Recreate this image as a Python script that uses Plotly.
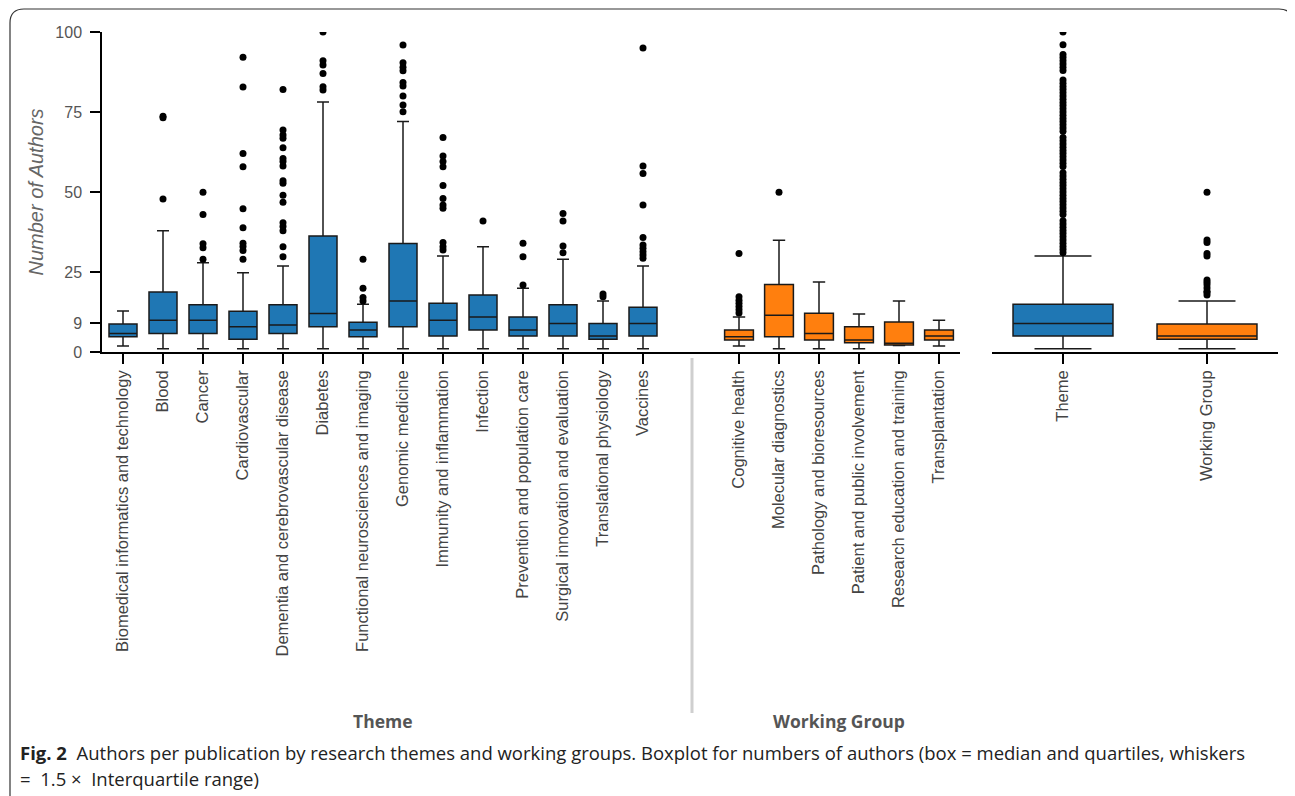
import plotly.graph_objects as go

# ---------------- data ----------------
theme_names = ["Biomedical informatics and technology", "Blood", "Cancer", "Cardiovascular",
               "Dementia and cerebrovascular disease", "Diabetes",
               "Functional neurosciences and imaging", "Genomic medicine",
               "Immunity and inflammation", "Infection", "Prevention and population care",
               "Surgical innovation and evaluation", "Translational physiology", "Vaccines"]
theme_q1 = [4.8, 5.8, 5.8, 4.0, 5.8, 7.9, 4.8, 7.9, 5.0, 6.9, 5.0, 5.0, 4.0, 5.0]
theme_median = [5.8, 9.9, 9.9, 7.9, 8.4, 12.0, 6.9, 15.9, 9.9, 10.9, 6.9, 8.9, 5.0, 8.9]
theme_q3 = [8.75, 18.75, 14.8, 12.7, 14.8, 36.25, 9.3, 33.9, 15.2, 17.8, 10.9, 14.8, 8.9, 14.0]
theme_lo = [1.9, 1, 1, 1, 1, 1, 1, 1, 1, 1, 1, 1, 1, 1]
theme_hi = [12.8, 37.9, 27.9, 24.8, 26.9, 78.1, 14.9, 72, 30, 32.9, 19.9, 29, 15.9, 26.9]
theme_outliers = [
    [],
    [73.7, 73.2, 47.8],
    [49.9, 43, 33.8, 32.6, 29],
    [92.1, 82.8, 62, 57.9, 44.8, 38.8, 34, 33, 31.7, 29],
    [82, 69.4, 67.8, 66.8, 63.8, 60.5, 59.5, 58.1, 53.5, 52.7, 49, 46.8, 40.4, 39.2, 37.9, 32.9, 29.8],
    [100, 91, 89.7, 87, 82.9, 81.9],
    [29, 19.9, 17, 15.9],
    [95.9, 90.4, 89, 87.9, 84.2, 83.1, 80, 77.2, 75.1],
    [67, 61.25, 59.5, 57.9, 52, 48, 45.9, 44.9, 34.2, 32.9, 31.9],
    [40.9],
    [34, 29.8, 20.9],
    [43.3, 40.9, 33.1, 31],
    [18.1, 17.3],
    [95, 58.1, 55.8, 45.9, 35.8, 33.4, 32.4, 31.3, 30.3, 29.3],
]

wg_names = ["Cognitive health", "Molecular diagnostics", "Pathology and bioresources",
            "Patient and public involvement", "Research education and training", "Transplantation"]
wg_q1 = [3.75, 4.8, 3.75, 2.9, 2.2, 3.75]
wg_median = [4.8, 11.5, 5.8, 3.75, 2.7, 5.0]
wg_q3 = [6.9, 21.1, 12.1, 7.9, 9.4, 6.9]
wg_lo = [1.9, 1, 1, 1, 2.0, 1.9]
wg_hi = [10.9, 34.9, 21.9, 11.9, 15.9, 9.9]
wg_outliers = [
    [30.8, 17.3, 16.2, 15.2, 14.2, 13.2, 12.2],
    [49.9],
    [], [], [], [],
]

all_names = ["Theme", "Working Group"]
all_q1 = [5.0, 3.95]
all_median = [8.9, 5.0]
all_q3 = [14.9, 8.75]
all_lo = [1, 1]
all_hi = [30, 15.9]
all_theme_outliers = [100, 96, 93, 92, 91, 90, 89, 88, 85, 84, 83, 82, 81, 80, 79, 78, 77, 76,
                      75, 74, 73, 72, 71, 70, 69, 67, 66, 65, 64, 63, 62, 61, 60, 59, 58, 56,
                      55, 54, 53, 52, 51, 50, 49, 48, 47, 46, 45, 44, 43, 41, 40, 39, 38, 37,
                      36, 35, 34, 33, 32, 31]
all_wg_outliers = [49.9, 35, 34.2, 30.8, 30, 22.5, 21.8, 21, 20, 19, 18.6, 17.8]

y_ticks = [0, 9, 25, 50, 75, 100]

BLUE = "#1f77b4"
ORANGE = "#ff7f0e"
LINE = "#1a1a1a"

# ---------------- layout geometry (page pixels; page body has an 8px margin) ----------------
OFF = 8
W_FIG, H_FIG = 1295 - OFF, 796 - OFF
L, R_EDGE, TOP, BOT = 102, 1278, 32, 352
PW, PH = R_EDGE - L, BOT - TOP


def px(x):
    return (x - L) / PW


def py(y):
    return (BOT - y) / PH


fig = go.Figure()

# theme boxes
fig.add_trace(go.Box(x=theme_names, q1=theme_q1, median=theme_median, q3=theme_q3,
                     lowerfence=theme_lo, upperfence=theme_hi, boxpoints=False,
                     fillcolor=BLUE, line=dict(color=LINE, width=1.5), width=0.7,
                     whiskerwidth=0.43, xaxis="x", yaxis="y", hoverinfo="skip"))
ox, oy = [], []
for n, vals in zip(theme_names, theme_outliers):
    ox += [n] * len(vals)
    oy += vals
fig.add_trace(go.Scatter(x=ox, y=oy, mode="markers", marker=dict(color="black", size=7),
                         xaxis="x", yaxis="y", cliponaxis=True, hoverinfo="skip"))

# working group boxes
fig.add_trace(go.Box(x=wg_names, q1=wg_q1, median=wg_median, q3=wg_q3,
                     lowerfence=wg_lo, upperfence=wg_hi, boxpoints=False,
                     fillcolor=ORANGE, line=dict(color=LINE, width=1.5), width=0.72,
                     whiskerwidth=0.43, xaxis="x2", yaxis="y", hoverinfo="skip"))
ox, oy = [], []
for n, vals in zip(wg_names, wg_outliers):
    ox += [n] * len(vals)
    oy += vals
fig.add_trace(go.Scatter(x=ox, y=oy, mode="markers", marker=dict(color="black", size=7),
                         xaxis="x2", yaxis="y", cliponaxis=True, hoverinfo="skip"))

# overall boxes
for i, col in enumerate([BLUE, ORANGE]):
    fig.add_trace(go.Box(x=[all_names[i]], q1=[all_q1[i]], median=[all_median[i]],
                         q3=[all_q3[i]], lowerfence=[all_lo[i]], upperfence=[all_hi[i]],
                         boxpoints=False, fillcolor=col, line=dict(color=LINE, width=1.5),
                         width=0.694, whiskerwidth=0.57, xaxis="x3", yaxis="y",
                         hoverinfo="skip"))
fig.add_trace(go.Scatter(x=[all_names[0]] * len(all_theme_outliers), y=all_theme_outliers,
                         mode="markers", marker=dict(color="black", size=7),
                         xaxis="x3", yaxis="y", cliponaxis=True, hoverinfo="skip"))
fig.add_trace(go.Scatter(x=[all_names[1]] * len(all_wg_outliers), y=all_wg_outliers,
                         mode="markers", marker=dict(color="black", size=7),
                         xaxis="x3", yaxis="y", cliponaxis=True, hoverinfo="skip"))

tickfont = dict(family="Liberation Sans, Arial, sans-serif", size=16.5, color="#444")
xcommon = dict(type="category", showline=True, linecolor="black", linewidth=1.5,
               ticks="outside", ticklen=10, tickwidth=1.5, tickcolor="black",
               tickangle=-90, tickfont=tickfont, showgrid=False, zeroline=False,
               anchor="y", fixedrange=True)

fig.update_layout(
    width=W_FIG, height=H_FIG,
    margin=dict(l=L - OFF, r=1295 - R_EDGE, t=TOP - OFF, b=796 - BOT, pad=0),
    paper_bgcolor="white", plot_bgcolor="white",
    showlegend=False,
    boxmode="overlay",
    xaxis=dict(domain=[0, px(692)], range=[-0.525, 14.225],
               categoryorder="array", categoryarray=theme_names, **xcommon),
    xaxis2=dict(domain=[px(692), px(960)], range=[-1.175, 5.525],
                categoryorder="array", categoryarray=wg_names, **xcommon),
    xaxis3=dict(domain=[px(992), 1], range=[-0.493, 1.493],
                categoryorder="array", categoryarray=all_names, **xcommon),
    yaxis=dict(range=[0, 100], tickvals=y_ticks, ticktext=[str(v) for v in y_ticks],
               showline=True, linecolor="black", linewidth=1.5, ticks="outside",
               ticklen=10, tickwidth=1.5, tickcolor="black", showgrid=False,
               zeroline=False, anchor="x", fixedrange=True, ticklabelstandoff=5,
               tickfont=dict(family="Liberation Sans, Arial, sans-serif", size=16, color="#555"),
               title=dict(text="<i>Number of Authors</i>", standoff=6,
                          font=dict(family="Liberation Sans, Arial, sans-serif", size=20,
                                    color="#666"))),
)

# frame with rounded top corners
x0, x1, y0, y1, r = 10, 1293, 9, 805, 14
path = (f"M {px(x0)},{py(y1)} L {px(x0)},{py(y0 + r)} "
        f"Q {px(x0)},{py(y0)} {px(x0 + r)},{py(y0)} "
        f"L {px(x1 - r)},{py(y0)} Q {px(x1)},{py(y0)} {px(x1)},{py(y0 + r)} "
        f"L {px(x1)},{py(y1)}")
fig.add_shape(type="path", xref="paper", yref="paper", path=path,
              line=dict(color="#333", width=1.2))

# divider between themes and working groups
fig.add_shape(type="line", xref="paper", yref="paper", x0=px(692), x1=px(692),
              y0=py(358), y1=py(713), line=dict(color="#cfcfcf", width=3))

grp_font = dict(family="Open Sans, sans-serif", size=17.5, color="#555")
fig.add_annotation(text="<b>Theme</b>", xref="paper", yref="paper", x=px(383), y=py(721),
                   showarrow=False, font=grp_font, xanchor="center", yanchor="middle")
fig.add_annotation(text="<b>Working Group</b>", xref="paper", yref="paper", x=px(839),
                   y=py(721), showarrow=False, font=grp_font, xanchor="center",
                   yanchor="middle")

cap_font = dict(family="Open Sans, sans-serif", size=18.5, color="#222")
fig.add_annotation(
    text="<b>Fig. 2</b>  Authors per publication by research themes and working groups. "
         "Boxplot for numbers of authors (box = median and quartiles, whiskers",
    xref="paper", yref="paper", x=px(18), y=py(752), showarrow=False, font=cap_font,
    xanchor="left", yanchor="middle", align="left")
fig.add_annotation(
    text="=  1.5 ×  Interquartile range)",
    xref="paper", yref="paper", x=px(18), y=py(778), showarrow=False, font=cap_font,
    xanchor="left", yanchor="middle", align="left")

fig.write_html("out.html")
